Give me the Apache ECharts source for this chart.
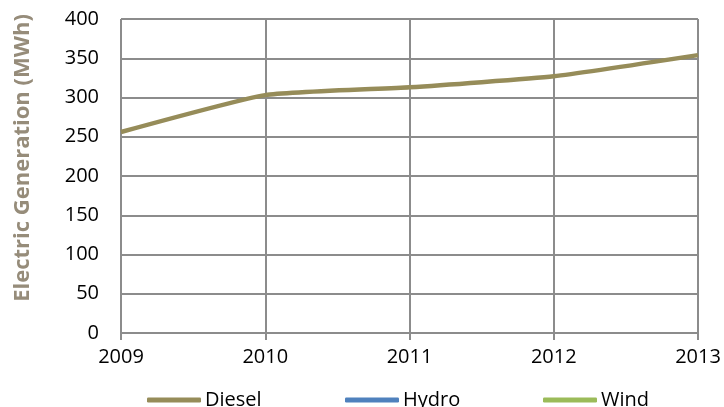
<!DOCTYPE html>
<html>
<head>
<meta charset="utf-8">
<script src="https://cdn.jsdelivr.net/npm/echarts@6/dist/echarts.min.js"></script>
<style>
  html, body { margin: 0; padding: 0; background: #fff; }
  #chart { width: 724px; height: 407px; }
</style>
</head>
<body>
<div id="chart"></div>
<script>
// Annual electric generation by source
const years = ['2009', '2010', '2011', '2012', '2013'];
const dieselMWh = [256, 303, 313, 327, 354];
const hydroMWh = [null, null, null, null, null];
const windMWh = [null, null, null, null, null];
const yTicks = { min: 0, max: 400, interval: 50 };
const seriesNames = ['Diesel', 'Hydro', 'Wind'];
const seriesColors = ['#968c59', '#4f81bd', '#9bbb59'];

const FONT = '"Open Sans", "Liberation Sans", sans-serif';
const gridGrey = '#8c8c8c';
const legendLeft = [147, 345, 543];

const chart = echarts.init(document.getElementById('chart'), null, { renderer: 'canvas' });

chart.setOption({
  animation: false,
  backgroundColor: '#ffffff',
  textStyle: { fontFamily: FONT },
  grid: { left: 121, right: 26, top: 19, bottom: 74, containLabel: false },
  legend: seriesNames.map((name, i) => ({
    left: legendLeft[i],
    top: 390,
    padding: 0,
    itemWidth: 54,
    itemHeight: 5,
    itemGap: 0,
    icon: 'roundRect',
    textStyle: { fontFamily: FONT, fontSize: 20, color: '#000', padding: [0, 0, 0, -1] },
    data: [name]
  })),
  xAxis: {
    type: 'category',
    data: years,
    boundaryGap: false,
    axisLine: { lineStyle: { color: gridGrey, width: 2 } },
    axisTick: { show: true, length: 7, lineStyle: { color: gridGrey, width: 2 } },
    axisLabel: { fontFamily: FONT, fontSize: 20, color: '#000', margin: 14 },
    splitLine: { show: true, lineStyle: { color: gridGrey, width: 2 } }
  },
  yAxis: {
    type: 'value',
    min: yTicks.min,
    max: yTicks.max,
    interval: yTicks.interval,
    name: 'Electric Generation (MWh)',
    nameLocation: 'middle',
    nameGap: 87,
    nameRotate: 90,
    nameTextStyle: {
      fontFamily: FONT, fontSize: 22, fontWeight: 'bold', color: '#968c7a',
      padding: [0, 0, 0, 36]
    },
    axisLine: { show: false },
    axisTick: { show: false },
    axisLabel: { fontFamily: FONT, fontSize: 20, color: '#000', margin: 22 },
    splitLine: { show: true, lineStyle: { color: gridGrey, width: 2 } }
  },
  series: seriesNames.map((name, i) => ({
    name,
    type: 'line',
    data: [dieselMWh, hydroMWh, windMWh][i],
    smooth: i === 0 ? 0.15 : false,
    symbol: 'none',
    color: seriesColors[i],
    lineStyle: { width: 4.5, color: seriesColors[i] }
  }))
});
</script>
</body>
</html>
